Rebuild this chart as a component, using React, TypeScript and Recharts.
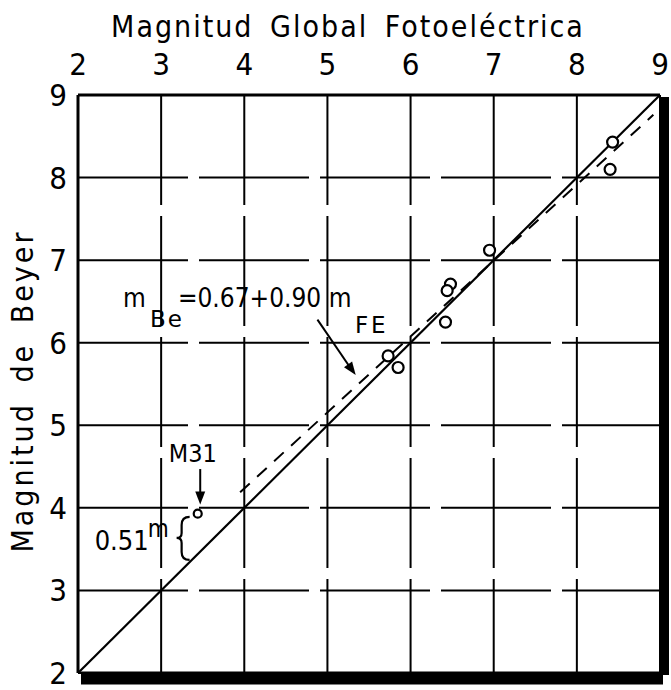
import React from "react";
import {
  ComposedChart,
  XAxis,
  YAxis,
  CartesianGrid,
  Line,
  Scatter,
  ReferenceDot,
  ReferenceLine,
} from "recharts";

// magnitudes
const FE_MAG = [8.43, 8.4, 6.95, 6.48, 6.44, 6.42, 5.73, 5.85];
const BEYER_MAG = [8.43, 8.1, 7.12, 6.71, 6.63, 6.25, 5.84, 5.7];
const M31_FE = [3.44];
const M31_BEYER = [3.93];

// y = x line and the fitted dashed line (end points)
const IDENTITY_X = [2, 9];
const IDENTITY_Y = [2, 9];
const FIT_X = [3.95, 8.92];
const FIT_Y = [4.19, 8.76];

const X_TICKS = [2, 3, 4, 5, 6, 7, 8, 9];
const Y_TICKS = [2, 3, 4, 5, 6, 7, 8, 9];

const FONT = "'DejaVu Sans Condensed', 'DejaVu Sans', sans-serif";
const WIDE = "'DejaVu Sans', sans-serif";

const stars = FE_MAG.map((x, i) => ({ x, y: BEYER_MAG[i] }));
const m31 = M31_FE.map((x, i) => ({ x, y: M31_BEYER[i] }));
const identity = IDENTITY_X.map((x, i) => ({ x, y: IDENTITY_Y[i] }));
const fit = FIT_X.map((x, i) => ({ x, y: FIT_Y[i] }));

const arrowHead = (angle: number) => (props: any) => {
  const { cx, cy } = props;
  return (
    <polygon
      points="0,0 -13,-5 -13,5"
      fill="#000"
      transform={`translate(${cx},${cy}) rotate(${angle})`}
    />
  );
};

const FormulaText = (props: any) => {
  const { cx, cy } = props;
  return (
    <text x={cx} y={cy} fontFamily={FONT} fontSize={26} fill="#000">
      <tspan x={cx}>m</tspan>
      <tspan x={cx + 27} dy={20} fontSize={23} fontFamily={WIDE} letterSpacing={2}>Be</tspan>
      <tspan x={cx + 55} dy={-20}>=0.67+0.90 m</tspan>
      <tspan x={cx + 232} dy={26} fontSize={23} fontFamily={WIDE} letterSpacing={3}>FE</tspan>
    </text>
  );
};

const M31Text = (props: any) => (
  <text x={props.cx} y={props.cy} textAnchor="middle" fontFamily={FONT} fontSize={25} fill="#000">
    M31
  </text>
);

const OffsetText = (props: any) => {
  const { cx, cy } = props;
  return (
    <g fontFamily={FONT} fill="#000">
      <text x={cx} y={cy} fontSize={27}>0.51</text>
      <text x={cx + 53} y={cy - 13} fontSize={24}>m</text>
      <path
        d={`M ${cx + 95} ${cy - 33} Q ${cx + 87} ${cy - 33} ${cx + 87} ${cy - 25} L ${cx + 87} ${cy - 17} Q ${cx + 87} ${cy - 12} ${cx + 82} ${cy - 12} Q ${cx + 87} ${cy - 12} ${cx + 87} ${cy - 7} L ${cx + 87} ${cy + 2} Q ${cx + 87} ${cy + 10} ${cx + 95} ${cy + 10}`}
        fill="none"
        stroke="#000"
        strokeWidth={2.2}
      />
    </g>
  );
};

const Circle = (r: number) => (props: any) => (
  <circle cx={props.cx} cy={props.cy} r={r} fill="#fff" stroke="#000" strokeWidth={2.2} />
);

const XTitle = (props: any) => {
  const { x, width } = props.viewBox;
  return (
    <text
      x={x + width / 2 - 21}
      y={37}
      textAnchor="middle"
      fontFamily={FONT}
      fontSize={30}
      letterSpacing={2}
      wordSpacing={6}
      fill="#000"
    >
      Magnitud Global Fotoeléctrica
    </text>
  );
};

const YTitle = () => {
  const cy = 391;
  return (
    <text
      x={33}
      y={cy}
      textAnchor="middle"
      transform={`rotate(-90, 33, ${cy})`}
      fontFamily={FONT}
      fontSize={30}
      letterSpacing={3}
      wordSpacing={8}
      fill="#000"
    >
      Magnitud de Beyer
    </text>
  );
};

export default function App() {
  return (
    <div style={{ position: "absolute", left: 0, top: 0, background: "#fff" }}>
      <ComposedChart
        width={671}
        height={690}
        margin={{ top: 0, left: 0, right: 0, bottom: 0 }}
      >
        <CartesianGrid stroke="#000" strokeWidth={2} strokeDasharray="110 11" />
        <XAxis
          type="number"
          dataKey="x"
          orientation="top"
          domain={[2, 9]}
          ticks={X_TICKS}
          interval={0}
          height={95}
          tickSize={0}
          tickMargin={20}
          tickLine={false}
          axisLine={{ stroke: "#000", strokeWidth: 3 }}
          tick={{ fill: "#000", fontSize: 31, fontFamily: FONT }}
          allowDataOverflow
          label={{ content: XTitle }}
        />
        <XAxis
          xAxisId="b"
          type="number"
          dataKey="x"
          orientation="bottom"
          domain={[2, 9]}
          height={17}
          tick={false}
          tickLine={false}
          axisLine={{ stroke: "#000", strokeWidth: 13, transform: "translate(3,5)" }}
        />
        <YAxis
          type="number"
          dataKey="y"
          domain={[2, 9]}
          ticks={Y_TICKS}
          interval={0}
          width={78}
          tickSize={0}
          tickMargin={11}
          tickLine={false}
          axisLine={{ stroke: "#000", strokeWidth: 3 }}
          tick={{ fill: "#000", fontSize: 31, fontFamily: FONT }}
          allowDataOverflow
          label={{ content: YTitle }}
        />
        <YAxis
          yAxisId="r"
          type="number"
          dataKey="y"
          orientation="right"
          domain={[2, 9]}
          width={11}
          tick={false}
          tickLine={false}
          axisLine={{ stroke: "#000", strokeWidth: 10, transform: "translate(4,2)" }}
        />
        <Line
          data={identity}
          dataKey="y"
          type="linear"
          stroke="#000"
          strokeWidth={2.2}
          dot={false}
          isAnimationActive={false}
        />
        <Line
          data={fit}
          dataKey="y"
          type="linear"
          stroke="#000"
          strokeWidth={2}
          strokeDasharray="13 10"
          dot={false}
          isAnimationActive={false}
        />
        <Scatter data={stars} shape={Circle(5.5)} isAnimationActive={false} />
        <Scatter data={m31} shape={Circle(4)} isAnimationActive={false} />

        {/* annotations */}
        <ReferenceLine
          segment={[
            { x: 4.88, y: 6.28 },
            { x: 5.3, y: 5.66 },
          ]}
          stroke="#000"
          strokeWidth={2}
        />
        <ReferenceDot x={5.34} y={5.61} r={0} shape={arrowHead(54)} />
        <ReferenceDot x={2.54} y={6.43} r={0} shape={FormulaText} />

        <ReferenceLine
          segment={[
            { x: 3.47, y: 4.47 },
            { x: 3.47, y: 4.12 },
          ]}
          stroke="#000"
          strokeWidth={2}
        />
        <ReferenceDot x={3.47} y={4.04} r={0} shape={arrowHead(90)} />
        <ReferenceDot x={3.38} y={4.56} r={0} shape={M31Text} />
        <ReferenceDot x={2.2} y={3.49} r={0} shape={OffsetText} />
      </ComposedChart>
    </div>
  );
}
